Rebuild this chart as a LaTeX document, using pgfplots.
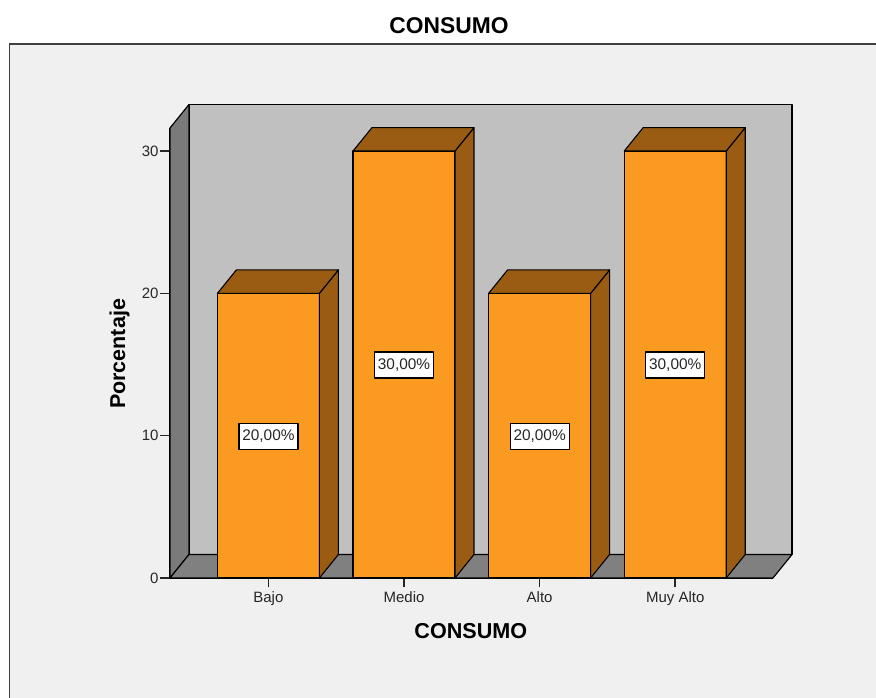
\documentclass[border=0pt]{standalone}
\usepackage{fontspec}
\setmainfont{Liberation Sans}
\usepackage{pgfplots}
\usepackage{pgfplotstable}
\pgfplotsset{compat=1.18}

\definecolor{panel}{HTML}{F0F0F0}
\definecolor{panelline}{HTML}{404040}
\definecolor{wallback}{HTML}{C0C0C0}
\definecolor{wallside}{HTML}{7A7A7A}
\definecolor{wallfloor}{HTML}{808080}
\definecolor{barfront}{HTML}{FA9A20}
\definecolor{bardark}{HTML}{9A5C12}

% Percentages per category
\pgfplotstableread{
x v
0 20
1 30
2 20
3 30
}\consumo

\begin{document}
\begin{tikzpicture}[x=1pt,y=1pt]
  \useasboundingbox (0,0) rectangle (876,698);
  \fill[white] (0,0) rectangle (876,698);
  \fill[panel] (9.5,0) rectangle (876,654);
  \draw[panelline,line width=1.3pt] (9.5,0) -- (9.5,654) -- (876,654);

  \begin{axis}[
    at={(170pt,120pt)}, anchor=south west,
    scale only axis, width=603pt, height=450pt,
    clip=false,
    xmin=-0.7257, xmax=3.721, ymin=0, ymax=31.62,
    axis x line*=bottom, axis y line*=left,
    axis line style={black,line width=1.3pt,-},
    tick align=outside, major tick length=9.5pt,
    tick style={black!85,line width=1.6pt},
    xtick={0,1,2,3},
    xticklabels={Bajo,Medio,Alto,Muy Alto},
    ytick={0,10,20,30},
    /pgf/number format/assume math mode=true,
    tick label style={font=\fontsize{15}{16}\selectfont,text=black!85},
    xticklabel style={yshift=-0.5pt},
    yticklabel style={xshift=1.5pt},
    title={\bfseries CONSUMO},
    title style={at={(axis description cs:0.4627,1.2267)},anchor=center,yshift=-6pt,
      font=\fontsize{22.8}{24}\selectfont},
    xlabel={\bfseries CONSUMO},
    xlabel style={at={(axis description cs:0.499,-0.1178)},anchor=center,
      font=\fontsize{21.6}{24}\selectfont},
    ylabel={\bfseries Porcentaje},
    ylabel style={at={(axis description cs:-0.0838,0.4978)},anchor=center,
      font=\fontsize{21.5}{24}\selectfont},
    every axis plot/.append style={line join=round},
  ]
    % Chart walls and floor
    \addplot[fill=wallback,draw=black,line width=1.2pt] coordinates
      {(-0.5857,1.65) (3.861,1.65) (3.861,33.27) (-0.5857,33.27)} -- cycle;
    \addplot[fill=wallside,draw=black,line width=1.2pt] coordinates
      {(-0.7257,0) (-0.5857,1.65) (-0.5857,33.27) (-0.7257,31.62)} -- cycle;
    \addplot[fill=wallfloor,draw=black,line width=1.2pt] coordinates
      {(-0.7257,0) (3.721,0) (3.861,1.65) (-0.5857,1.65)} -- cycle;

    % Bars: front faces
    \addplot[ybar,bar width=102pt,bar shift=0pt,fill=barfront,draw=black,line width=1.2pt]
      table[x=x,y=v] {\consumo};

    % Bars: side and top faces
    \addplot[fill=bardark,draw=black,line width=1.1pt] coordinates
      {(0.376,0) (0.516,1.65) (0.516,21.65) (0.376,20)} -- cycle;
    \addplot[fill=bardark,draw=black,line width=1.1pt] coordinates
      {(-0.376,20) (0.376,20) (0.516,21.65) (-0.236,21.65)} -- cycle;
    \addplot[fill=bardark,draw=black,line width=1.1pt] coordinates
      {(1.376,0) (1.516,1.65) (1.516,31.65) (1.376,30)} -- cycle;
    \addplot[fill=bardark,draw=black,line width=1.1pt] coordinates
      {(0.624,30) (1.376,30) (1.516,31.65) (0.764,31.65)} -- cycle;
    \addplot[fill=bardark,draw=black,line width=1.1pt] coordinates
      {(2.376,0) (2.516,1.65) (2.516,21.65) (2.376,20)} -- cycle;
    \addplot[fill=bardark,draw=black,line width=1.1pt] coordinates
      {(1.624,20) (2.376,20) (2.516,21.65) (1.764,21.65)} -- cycle;
    \addplot[fill=bardark,draw=black,line width=1.1pt] coordinates
      {(3.376,0) (3.516,1.65) (3.516,31.65) (3.376,30)} -- cycle;
    \addplot[fill=bardark,draw=black,line width=1.1pt] coordinates
      {(2.624,30) (3.376,30) (3.516,31.65) (2.764,31.65)} -- cycle;

    % Value labels at half height of each bar
    \addplot[draw=none,mark=none,
      point meta=explicit,
      nodes near coords={\pgfmathprintnumber[fixed,fixed zerofill,precision=2,use comma]{\pgfplotspointmeta}\%},
      nodes near coords align=center,
      every node near coord/.append style={
        fill=white,draw=black,line width=1.2pt,inner sep=0pt,
        minimum width=59pt,minimum height=26pt,
        text=black!85,font=\fontsize{15.4}{16}\selectfont,anchor=center,
        yshift=-0.5pt,
        /pgf/number format/assume math mode=true},
    ] table[x=x,y expr=\thisrow{v}/2,meta=v] {\consumo};
  \end{axis}
\end{tikzpicture}
\end{document}
